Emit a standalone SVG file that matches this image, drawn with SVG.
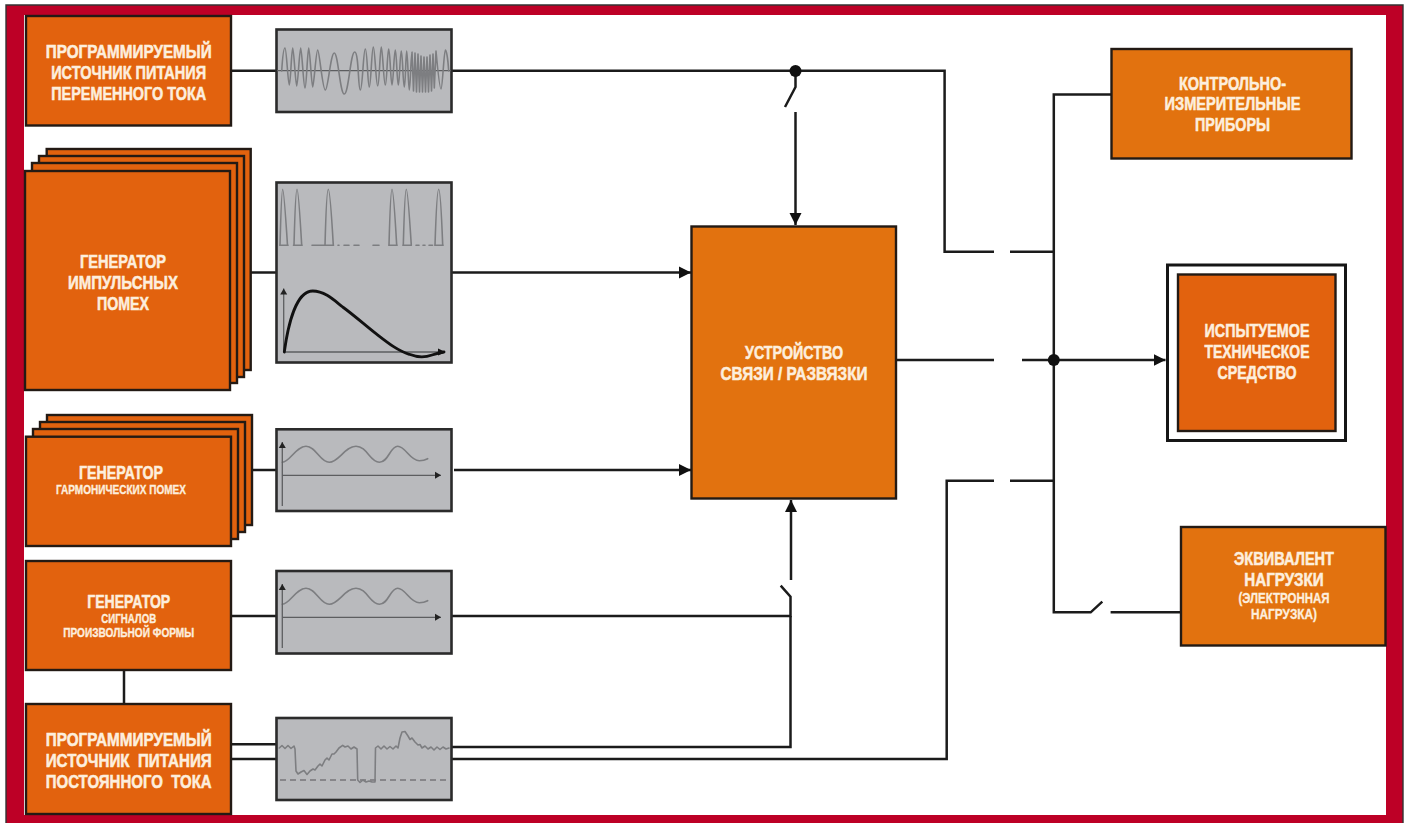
<svg xmlns="http://www.w3.org/2000/svg" width="1409" height="823" viewBox="0 0 1409 823">
<style>
.box{stroke:#231a14;stroke-width:2.4}
.a{fill:#e2620e}
.b{fill:#e2720f}
.gray{fill:#b9babd;stroke:#2b2b2b;stroke-width:2.6}
.t{font-family:"Liberation Sans",Arial,sans-serif;font-weight:700;fill:#fdeedd;stroke:#fdeedd;stroke-width:.55}
.t18{font-size:18px}
.t12{font-size:12.5px;stroke-width:.35}
.t14{font-size:15px;stroke-width:.35}
.w{fill:none;stroke-linejoin:round;stroke-linecap:round}
.thin{stroke:#7d7e81;stroke-width:1.6}
.ax{stroke:#5d5e60;stroke-width:1.3}
.wire{fill:none;stroke:#1b1b1b;stroke-width:2.5}
</style>
<defs>
<marker id="head" markerUnits="userSpaceOnUse" markerWidth="13" markerHeight="13" refX="12" refY="6.5" orient="auto"><path d="M0 0.5L12 6.5L0 12.5Z" fill="#111"/></marker>
<marker id="small" markerUnits="userSpaceOnUse" markerWidth="7" markerHeight="8" refX="6" refY="4" orient="auto"><path d="M0 0.5L6 4L0 7.5Z" fill="#222"/></marker>
<g id="sine">
<path class="w thin" d="M282.3 462.3C290 462 296 446.3 306 446.3S320 462.3 329.3 462.3S345 446.3 356 446.3S370 462.3 379.3 462.3S390 446.3 397.7 446.3S410 460.7 419.3 460.7Q424 460.7 427.7 458.7"/>
<line class="ax" x1="282.3" y1="506" x2="282.3" y2="442" marker-end="url(#small)"/>
<line class="ax" x1="282.3" y1="475.3" x2="441" y2="475.3" marker-end="url(#small)"/>
</g>
</defs>
<rect width="1409" height="823" fill="#fff"/>
<path fill="#bd0026" fill-rule="evenodd" d="M6 5H1403V823H6ZM24 15V815H1386V15Z"/>
<path fill="none" stroke="#333" stroke-width="1.4" d="M6 823V5H1403V823"/>

<g id="connectors" class="wire">
<path d="M231 70.7H276M451 70.7H944.6V251.7H994M1010 251.7H1053.8"/>
<path d="M795.5 71V87L785 107"/>
<path d="M795.5 112V225" marker-end="url(#head)"/>
<path d="M251 272.5H276"/>
<path d="M451 272.5H691" marker-end="url(#head)"/>
<path d="M252 470H276"/>
<path d="M454 470H691" marker-end="url(#head)"/>
<path d="M231 616H276M451 616H790.5V596.7L780.7 585.7"/>
<path d="M791 580V500" marker-end="url(#head)"/>
<path d="M124 670V704"/>
<path d="M231 744.3H276M231 759H276"/>
<path d="M451 747H790.5V616M451 759H946.7V480.7H994M1010 480.7H1053.8"/>
<path d="M896 360H994M1022 360H1053.8"/>
<path d="M1053.8 360H1165.5" marker-end="url(#head)"/>
<path d="M1111 94.5H1053.8V612.3H1090.7L1102.3 601.7M1110.6 612.3H1181"/>
<circle cx="795.5" cy="71" r="6" fill="#111" stroke="none"/>
<circle cx="1053.8" cy="360" r="6" fill="#111" stroke="none"/>
</g>

<g id="node-ac-source">
<rect class="box a" x="26" y="16" width="205" height="109.5"/>
<text class="t t18" x="128.7" y="58" text-anchor="middle" textLength="166" lengthAdjust="spacingAndGlyphs">ПРОГРАММИРУЕМЫЙ</text>
<text class="t t18" x="128.7" y="79" text-anchor="middle" textLength="155" lengthAdjust="spacingAndGlyphs">ИСТОЧНИК ПИТАНИЯ</text>
<text class="t t18" x="128.7" y="100" text-anchor="middle" textLength="155" lengthAdjust="spacingAndGlyphs">ПЕРЕМЕННОГО ТОКА</text>
</g>
<g id="node-ac-wave">
<rect class="gray" x="276.5" y="29.5" width="175" height="82.5"/>
<line class="ax" x1="277" y1="70.7" x2="451" y2="70.7"/>
<path class="w thin" d="M281.7 71C282.5 58 283.5 48 285 48S288 85 289.3 85S291.5 48 292.7 48S295.5 86 296.7 86S299.5 48 300.7 48S303.5 88 305 88S307.5 48 308.7 48S311.5 87 312.7 87S316 50 317.7 50S322.5 90 325.3 90S330.5 53 334.3 53S340 94 344.3 94S350.5 52 354.7 52S358 90 360.3 90S363.3 49 365.3 49S367.7 87 369.3 87S371.7 47 373.3 47S376 86 377.7 86S380 47 381.3 47S383.7 85 385.3 85S387.3 49 388.7 49S390.7 85 392 85S394 50 395.3 50S397 85 398.3 85S400 51 401.3 51S403 87 404.3 87S405.7 51 406.7 51S408.3 90 409.3 90S411 52 412 52L413.5 91L415 53L416.5 92L418 54L419.5 92L421 56L422.5 92L424 57L425.5 92L427 57L428.5 92L430 55L431.5 91L433 54L434.3 88L436 51S439.5 89 441 89S444 50 445.3 50S448 60 448.7 71"/>
</g>

<g id="node-pulse-generator">
<rect class="box a" x="46.7" y="149" width="204" height="221"/>
<rect class="box a" x="39" y="156" width="205" height="221"/>
<rect class="box a" x="32" y="163" width="205" height="220"/>
<rect class="box a" x="25" y="171" width="205" height="219"/>
<text class="t t18" x="123" y="268" text-anchor="middle" textLength="86" lengthAdjust="spacingAndGlyphs">ГЕНЕРАТОР</text>
<text class="t t18" x="123" y="289" text-anchor="middle" textLength="110" lengthAdjust="spacingAndGlyphs">ИМПУЛЬСНЫХ</text>
<text class="t t18" x="123" y="310" text-anchor="middle" textLength="52" lengthAdjust="spacingAndGlyphs">ПОМЕХ</text>
</g>
<g id="node-pulse-wave">
<rect class="gray" x="276.5" y="182.5" width="175" height="180"/>
<path class="w thin" d="M280 245.3H288M293.5 245.3H302M312 245.3H333.5M338 245.3H339M344 245.3H349M354 245.3H359M373 245.3H379M389 245.3H397M403 245.3H411M416 245.3H419M423 245.3H425M429 245.3H432.5M435 245.3H443"/>
<path class="w thin" d="M280 245.3Q281.5 189.3 282.7 189.3T287.5 245.3M294 245.3Q295.5 189.3 297 189.3T301.7 245.3M325 245.3Q326.5 189.3 328.3 189.3T333.3 245.3M389 245.3Q390.5 189.3 392 189.3T396.7 245.3M403.3 245.3Q404.8 189.3 406.3 189.3T411.3 245.3M435 245.3Q436.8 189.3 438.7 189.3T442.7 245.3"/>
<line class="ax" x1="283.7" y1="352" x2="283.7" y2="288.5" marker-end="url(#small)"/>
<line class="ax" x1="284" y1="352" x2="444" y2="352"/>
<path class="w" fill="none" stroke="#111" stroke-width="2.8" d="M284.3 352C288 325 296 291 312.7 291C325 291 335 301 342.7 307C355 316 366 326 376 333.7C388 343 398 351 409.3 354.3C416 357 424 358 432 355Q438 353 444 352"/>
<path d="M445.5 352L438 348.5V355.5Z" fill="#111"/>
</g>

<g id="node-harmonic-generator">
<rect class="box a" x="47" y="415" width="205" height="110"/>
<rect class="box a" x="40" y="422" width="205" height="110"/>
<rect class="box a" x="33" y="429" width="205" height="110"/>
<rect class="box a" x="26" y="436.7" width="205" height="109.3"/>
<text class="t t18" x="121" y="479" text-anchor="middle" textLength="84" lengthAdjust="spacingAndGlyphs">ГЕНЕРАТОР</text>
<text class="t t12" x="121" y="493.7" text-anchor="middle" textLength="130" lengthAdjust="spacingAndGlyphs">ГАРМОНИЧЕСКИХ ПОМЕХ</text>
</g>
<g id="node-harmonic-wave">
<rect class="gray" x="276.5" y="429.3" width="175" height="81.7"/>
<use href="#sine"/>
</g>

<g id="node-arbitrary-generator">
<rect class="box a" x="26" y="561" width="205" height="109"/>
<text class="t t18" x="128.7" y="607.7" text-anchor="middle" textLength="83" lengthAdjust="spacingAndGlyphs">ГЕНЕРАТОР</text>
<text class="t t12" x="128.7" y="622.7" text-anchor="middle" textLength="55" lengthAdjust="spacingAndGlyphs">СИГНАЛОВ</text>
<text class="t t12" x="128.7" y="637" text-anchor="middle" textLength="131" lengthAdjust="spacingAndGlyphs">ПРОИЗВОЛЬНОЙ ФОРМЫ</text>
</g>
<g id="node-arbitrary-wave">
<rect class="gray" x="276.5" y="571" width="175" height="82.5"/>
<use href="#sine" y="142"/>
</g>

<g id="node-dc-source">
<rect class="box a" x="26" y="704" width="205" height="110"/>
<text class="t t18" x="128.7" y="746" text-anchor="middle" textLength="166" lengthAdjust="spacingAndGlyphs">ПРОГРАММИРУЕМЫЙ</text>
<text class="t t18" x="128.7" y="767" text-anchor="middle" textLength="166" lengthAdjust="spacingAndGlyphs" xml:space="preserve">ИСТОЧНИК  ПИТАНИЯ</text>
<text class="t t18" x="128.7" y="788" text-anchor="middle" textLength="166" lengthAdjust="spacingAndGlyphs" xml:space="preserve">ПОСТОЯННОГО  ТОКА</text>
</g>
<g id="node-dc-wave">
<rect class="gray" x="276.5" y="718" width="175" height="82"/>
<line x1="280" y1="780" x2="447" y2="780" stroke="#77767a" stroke-width="1.4" stroke-dasharray="6 4"/>
<polyline class="w thin" points="279.3,748 282,745.5 285,748.5 288,745.5 291,748.5 294,746 295,749 296,771 298,774 301,772 304,770.5 307,774.5 310,771 313,769 315,770 318,766 320,764 322,766 325,760 327,758 329,760 332,754 334,754 336,752 339,748 342.7,745.3 345,747 348,746 351,749 354,747 357,749 357.7,780 360,782.5 363,780 366,782 369,781 372,782 375,782 375.5,748 378,746 381,749 384,746 387,749 390,746.5 393,749 396,746 398,748 400,738 402,732 405,731.5 408,736 410,739.5 412,738 415,742 418,745 420,744.5 422,748 425,746 428,749 431,747 434,750 437,747 440,749.5 443,747 446,749 449,748"/>
</g>

<g id="node-coupling">
<rect class="box b" x="691.5" y="226.5" width="204.5" height="272"/>
<text class="t t18" x="794" y="359" text-anchor="middle" textLength="98" lengthAdjust="spacingAndGlyphs">УСТРОЙСТВО</text>
<text class="t t18" x="794" y="380" text-anchor="middle" textLength="147" lengthAdjust="spacingAndGlyphs">СВЯЗИ / РАЗВЯЗКИ</text>
</g>

<g id="node-instruments">
<rect class="box b" x="1111.5" y="49" width="240" height="109.5"/>
<text class="t t18" x="1232.5" y="90" text-anchor="middle" textLength="107" lengthAdjust="spacingAndGlyphs">КОНТРОЛЬНО-</text>
<text class="t t18" x="1232.5" y="110" text-anchor="middle" textLength="136" lengthAdjust="spacingAndGlyphs">ИЗМЕРИТЕЛЬНЫЕ</text>
<text class="t t18" x="1232.5" y="130.6" text-anchor="middle" textLength="75" lengthAdjust="spacingAndGlyphs">ПРИБОРЫ</text>
</g>

<g id="node-eut">
<rect x="1167.5" y="265" width="178" height="175.5" fill="#fff" stroke="#161616" stroke-width="3"/>
<rect class="box a" x="1178" y="274.5" width="157.5" height="156.5"/>
<text class="t t18" x="1257" y="337" text-anchor="middle" textLength="105" lengthAdjust="spacingAndGlyphs">ИСПЫТУЕМОЕ</text>
<text class="t t18" x="1257" y="358" text-anchor="middle" textLength="105" lengthAdjust="spacingAndGlyphs">ТЕХНИЧЕСКОЕ</text>
<text class="t t18" x="1257" y="379" text-anchor="middle" textLength="79" lengthAdjust="spacingAndGlyphs">СРЕДСТВО</text>
</g>

<g id="node-load">
<rect class="box b" x="1181" y="527" width="204.5" height="118.5"/>
<text class="t t18" x="1284" y="565" text-anchor="middle" textLength="100" lengthAdjust="spacingAndGlyphs">ЭКВИВАЛЕНТ</text>
<text class="t t18" x="1284" y="586" text-anchor="middle" textLength="79.5" lengthAdjust="spacingAndGlyphs">НАГРУЗКИ</text>
<text class="t t14" x="1284" y="603" text-anchor="middle" textLength="91" lengthAdjust="spacingAndGlyphs">(ЭЛЕКТРОННАЯ</text>
<text class="t t14" x="1284" y="619" text-anchor="middle" textLength="66" lengthAdjust="spacingAndGlyphs">НАГРУЗКА)</text>
</g>
</svg>
